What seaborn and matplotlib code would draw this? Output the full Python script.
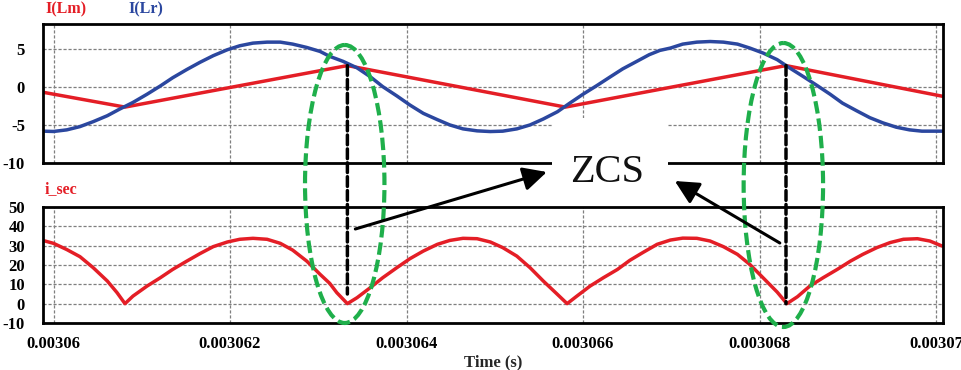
import numpy as np
import matplotlib
matplotlib.use('Agg')
import matplotlib.pyplot as plt
import seaborn as sns
from matplotlib.patches import Ellipse, Rectangle, ConnectionPatch
from matplotlib.ticker import FuncFormatter

T0 = 0.00306  # s, time of the first grid line

# time offsets in microseconds from T0
lm_t = [-0.12, 0.81, 3.33, 5.80, 8.30, 10.07]
lm_i = [-0.71, -2.66, 2.79, -2.66, 2.79, -1.23]

lr_t = [-0.12, 0.00, 0.15, 0.30, 0.45, 0.61, 0.75, 0.90,
        1.06, 1.21, 1.35, 1.51, 1.66, 1.81, 1.97, 2.11,
        2.26, 2.42, 2.57, 2.71, 2.87, 3.02, 3.13, 3.28,
        3.44, 3.59, 3.73, 3.89, 4.04, 4.19, 4.35, 4.49,
        4.64, 4.80, 4.95, 5.09, 5.25, 5.40, 5.55, 5.71,
        5.85, 6.00, 6.16, 6.31, 6.45, 6.61, 6.75, 6.87,
        6.99, 7.13, 7.29, 7.44, 7.59, 7.75, 7.89, 8.04,
        8.20, 8.34, 8.50, 8.65, 8.80, 8.94, 9.10, 9.25,
        9.40, 9.55, 9.70, 9.84, 10.07]
lr_i = [-5.82, -5.86, -5.65, -5.22, -4.57, -3.79, -2.92, -2.05,
        -0.97, 0.11, 1.19, 2.27, 3.22, 4.09, 4.87, 5.39,
        5.74, 5.87, 5.87, 5.61, 5.17, 4.65, 4.00, 3.35,
        2.49, 1.32, 0.03, -1.19, -2.40, -3.48, -4.31, -5.00,
        -5.52, -5.78, -5.87, -5.82, -5.52, -5.00, -4.22, -3.27,
        -2.14, -0.97, 0.19, 1.32, 2.36, 3.35, 4.22, 4.78,
        5.09, 5.61, 5.87, 5.95, 5.87, 5.61, 5.09, 4.44,
        3.57, 2.49, 1.32, 0.19, -0.97, -2.14, -3.14, -4.05,
        -4.74, -5.30, -5.65, -5.82, -5.82]

sec_t = [-0.12, 0.00, 0.15, 0.30, 0.45, 0.61, 0.72, 0.81,
         0.90, 1.06, 1.21, 1.35, 1.51, 1.66, 1.81, 1.97,
         2.11, 2.26, 2.42, 2.57, 2.71, 2.87, 3.02, 3.13,
         3.21, 3.33, 3.44, 3.59, 3.73, 3.89, 4.04, 4.19,
         4.35, 4.49, 4.64, 4.80, 4.95, 5.09, 5.25, 5.40,
         5.55, 5.71, 5.82, 5.93, 6.08, 6.23, 6.39, 6.53,
         6.68, 6.84, 6.99, 7.13, 7.29, 7.44, 7.59, 7.75,
         7.89, 8.04, 8.20, 8.31, 8.43, 8.57, 8.72, 8.88,
         9.03, 9.17, 9.33, 9.48, 9.63, 9.79, 9.93, 10.07]
sec_i = [32.7, 31.2, 28.0, 24.3, 18.6, 11.7, 5.7, 0.0,
         3.9, 9.1, 13.4, 17.7, 22.0, 25.9, 29.5, 31.9,
         33.3, 33.8, 33.3, 31.2, 27.7, 22.0, 15.2, 10.5,
         5.7, 0.0, 3.1, 8.3, 13.4, 18.6, 23.3, 27.2,
         30.7, 32.7, 33.8, 33.6, 31.9, 29.0, 24.6, 18.6,
         11.7, 4.8, 0.0, 3.9, 9.1, 13.4, 17.7, 22.4,
         26.5, 30.7, 32.9, 33.9, 33.8, 32.4, 29.5, 25.5,
         20.3, 13.4, 6.0, 0.0, 3.6, 9.1, 13.4, 17.7,
         22.0, 25.5, 29.0, 31.6, 33.3, 33.6, 32.4, 29.8]

# ZCS instants (us) and where the black dashed markers start / end
zcs_us = [3.33, 8.30]
zcs_top = [lm_i[2], lm_i[4]]
zcs_bot = [5.0, 0.0]

xticks_s = [0.00306, 0.003062, 0.003064, 0.003066, 0.003068, 0.00307]
top_yticks = [-10, -5, 0, 5]
bot_yticks = [-10, 0, 10, 20, 30, 40, 50]

RED = '#E41E26'
BLUE = '#2B479F'
GREEN = '#1FAF4B'


def to_s(us):
    return T0 + np.asarray(us) * 1e-6


sns.set_theme(style='white')
plt.rcParams['font.family'] = ['Liberation Serif', 'DejaVu Serif']
plt.rcParams['font.weight'] = 'bold'
plt.rcParams['axes.unicode_minus'] = False

W, H = 962, 370
fig = plt.figure(figsize=(W / 100, H / 100), dpi=100)


def box(l, t, r, b):
    return [l / W, 1 - b / H, (r - l) / W, (b - t) / H]


ax_top = fig.add_axes(box(43, 24, 943, 163))
ax_bot = fig.add_axes(box(43, 207, 943, 323))
xlim = (to_s(-0.119), to_s(10.079))

sns.lineplot(x=to_s(lm_t), y=lm_i, ax=ax_top, color=RED, lw=2.5,
             estimator=None, sort=False)
sns.lineplot(x=to_s(lr_t), y=lr_i, ax=ax_top, color=BLUE, lw=2.5,
             estimator=None, sort=False)
sns.lineplot(x=to_s(sec_t), y=sec_i, ax=ax_bot, color=RED, lw=2.5,
             estimator=None, sort=False)

fmt = FuncFormatter(lambda v, p: f'{v:.6f}'.rstrip('0'))
for ax, yt, yl in [(ax_top, top_yticks, (-10, 8.25)), (ax_bot, bot_yticks, (-10, 50))]:
    ax.set_xlim(xlim)
    ax.set_ylim(yl)
    ax.set_xticks(xticks_s)
    ax.set_yticks(yt)
    ax.xaxis.set_major_formatter(fmt)
    ax.grid(True, color='#7f7f7f', linestyle=(0, (2.5, 1.5)), linewidth=0.9)
    for sp in ax.spines.values():
        sp.set_color('black')
        sp.set_linewidth(2.0)
    ax.tick_params(axis='y', length=0, labelsize=12, pad=13, colors='black')
    ax.tick_params(axis='x', length=0, labelsize=12, pad=9, colors='black')

ax_top.tick_params(labelbottom=False)
ax_bot.set_xlabel('Time (s)', fontsize=12, fontweight='bold', labelpad=2)

fig.text(45 / W, 1 - 9 / H, 'I(Lm)', color=RED, fontsize=11.5, fontweight='bold', va='center')
fig.text(128 / W, 1 - 9 / H, 'I(Lr)', color=BLUE, fontsize=11.5, fontweight='bold', va='center')
fig.text(45 / W, 1 - 189 / H, 'i_sec', color=RED, fontsize=11.5, fontweight='bold', va='center')

# overlay for the annotations: x in time, y in pixels from the top
ann = fig.add_axes(box(43, 0, 943, 370))
ann.set_xlim(xlim)
ann.set_ylim(H, 0)
ann.axis('off')

ann.add_patch(Rectangle((to_s(5.65), 118), to_s(6.96) - to_s(5.65), 83,
                        facecolor='white', edgecolor='none', zorder=1))
ann.text(to_s(6.27), 182, 'ZCS', fontsize=29, fontweight='normal',
         ha='center', va='baseline', color='#111111', zorder=2)

for cx, cy, h in [(3.30, 184, 278), (8.27, 185, 284)]:
    ann.add_patch(Ellipse((to_s(cx), cy), 0.9e-6, h, fill=False, edgecolor=GREEN,
                          lw=3, linestyle=(0, (3, 1.2)), zorder=3))

arrow = dict(arrowstyle='-|>,head_length=0.9,head_width=0.45', mutation_scale=16,
             lw=2.2, color='black', shrinkA=0, shrinkB=0)
ann.annotate('', xy=(to_s(5.59), 172), xytext=(to_s(3.42), 229), arrowprops=arrow)
ann.annotate('', xy=(to_s(7.04), 181), xytext=(to_s(8.23), 243), arrowprops=arrow)

for t, a, b in zip(zcs_us, zcs_top, zcs_bot):
    cp = ConnectionPatch(xyA=(to_s(t), a), coordsA=ax_top.transData,
                         xyB=(to_s(t), b), coordsB=ax_bot.transData,
                         color='black', lw=2.5, linestyle=(0, (2.8, 1.2)))
    fig.add_artist(cp)

fig.savefig('out.png', dpi=100)
